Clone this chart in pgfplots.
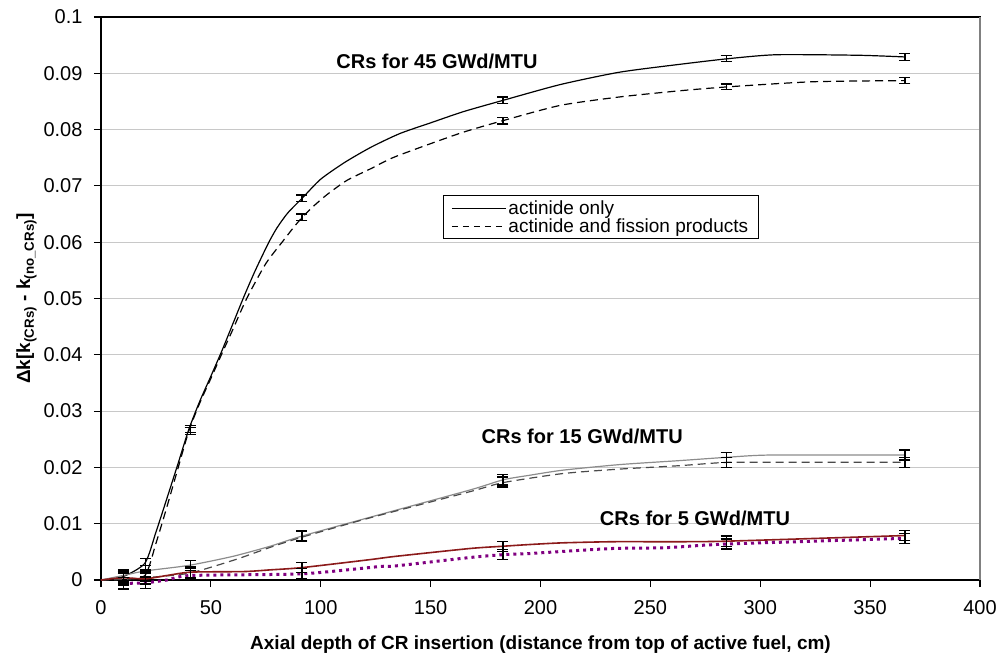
\documentclass[border=0pt]{standalone}
\usepackage{fontspec}
\setmainfont{Liberation Sans}
\usepackage{pgfplots}
\pgfplotsset{compat=1.18}
\definecolor{gridgray}{HTML}{C8C8C8}
\definecolor{lgray}{HTML}{8C8C8C}
\definecolor{dgray}{HTML}{4A4A4A}
\definecolor{dred}{HTML}{8B1A1A}
\definecolor{dpurple}{HTML}{800080}
\begin{document}
\begin{tikzpicture}
\begin{axis}[
 scale only axis, width=879pt, height=563pt,
 xmin=0, xmax=400, ymin=0, ymax=0.1,
 xtick={0,50,100,150,200,250,300,350,400},
 ytick={0,0.01,0.02,0.03,0.04,0.05,0.06,0.07,0.08,0.09,0.1},
 scaled y ticks=false,
 yticklabel style={/pgf/number format/fixed,/pgf/number format/precision=2, xshift=-8pt},
 xticklabel style={yshift=-10pt},
 /pgf/number format/assume math mode=true,
 tick label style={font=\fontsize{20}{24}\selectfont},
 tick align=outside, major tick length=7pt, xtick pos=bottom, ytick pos=left,
 tick style={black, line width=1.2pt},
 ymajorgrids, grid style={gridgray, line width=1.2pt},
 axis line style={black, line width=1.5pt},
 xlabel={Axial depth of CR insertion (distance from top of active fuel, cm)},
 ylabel={Δk[k\textsubscript{(CRs)} - k\textsubscript{(no\_CRs)}]},
 label style={font=\fontsize{19}{22}\selectfont\bfseries},
 xlabel style={yshift=-14pt},
 clip=false,
 legend cell align=left,
 legend image code/.code={\draw[#1] (0pt,0pt) -- (54pt,0pt);},
 legend style={at={(0.389,0.684)}, anchor=north west, draw=black, line width=1pt,
   font=\fontsize{19}{19}\selectfont, inner xsep=8pt, inner ysep=3pt, row sep=-1pt,
   nodes={inner xsep=2pt}},
 every axis plot/.append style={line join=round},
]
\addlegendimage{black, line width=1pt}
\addlegendentry{actinide only}
\addlegendimage{black, line width=1pt, dash pattern=on 6pt off 5pt}
\addlegendentry{actinide and fission products}

% 45 GWd/MTU actinide only
\addplot[forget plot, black, line width=1.2pt, smooth, tension=0.4] coordinates {
(0,0) (10,0.0006) (20,0.003) (25,0.0085) (30,0.0145) (35,0.0206) (40,0.0268) (45,0.0318) (50,0.0362) (55,0.0407) (60,0.0455) (65,0.0503) (70,0.0548) (76,0.0597) (80,0.0625) (85,0.0652) (92,0.068) (100,0.0712) (111,0.0742) (123,0.0769) (136,0.0793) (150,0.0812) (165,0.0832) (183,0.0852) (209,0.088) (236,0.0902) (263.5,0.0916) (285.5,0.0926) (307.5,0.0933) (345,0.0932) (366,0.0929)};
% 45 GWd/MTU actinide + FP
\addplot[forget plot, black, line width=1.2pt, dash pattern=on 8pt off 5pt, smooth, tension=0.4] coordinates {
(0,0) (10,0.0002) (20,0.0008) (25,0.0065) (30,0.013) (35,0.0198) (40,0.0265) (45,0.0315) (50,0.0358) (55,0.0402) (60,0.0445) (66.3,0.05) (75,0.0562) (83,0.0603) (88,0.0628) (92,0.0646) (97,0.0665) (103,0.0685) (112,0.071) (123,0.0731) (134,0.0752) (163,0.0793) (183,0.0816) (209,0.0843) (236,0.0858) (263.5,0.0869) (285.5,0.0876) (324,0.0885) (366,0.0887)};
% 15 GWd/MTU actinide only
\addplot[forget plot, lgray, line width=1.2pt, smooth, tension=0.4] coordinates {
(0,0) (10,0.0008) (20,0.0016) (40,0.0026) (60,0.0042) (77,0.006) (91.4,0.0078) (122,0.0111) (168,0.016) (183,0.0178) (195,0.0186) (210,0.0195) (236,0.0205) (263,0.0212) (285,0.0218) (305,0.0222) (366,0.0222)};
% 15 GWd/MTU actinide + FP
\addplot[forget plot, dgray, line width=1.2pt, dash pattern=on 8pt off 5pt, smooth, tension=0.4] coordinates {
(0,0) (10,0.0001) (20,0.0004) (40,0.0012) (61,0.0036) (77,0.0058) (91.4,0.0076) (122,0.011) (168,0.0157) (183,0.0173) (210,0.0189) (236,0.0197) (263,0.0203) (285,0.0209) (310,0.0209) (366,0.0209)};
% 5 GWd/MTU actinide only
\addplot[forget plot, dred, line width=1.6pt, smooth, tension=0.4] coordinates {
(0,0) (10,0.0004) (20,0.0002) (30,0.0008) (41,0.0014) (65,0.0015) (77,0.0018) (91.4,0.0022) (122,0.0036) (134,0.0042) (168,0.0056) (183,0.006) (195,0.0063) (210,0.0066) (233,0.0068) (260,0.0068) (285,0.0069) (366,0.0079)};
% 5 GWd/MTU actinide + FP
\addplot[forget plot, dpurple, line width=3pt, dash pattern=on 3pt off 4pt, smooth, tension=0.4] coordinates {
(10,-0.0006) (20,-0.0005) (30,0) (41,0.0008) (91.4,0.0011) (127,0.0024) (134,0.0025) (168,0.004) (183,0.0045) (195,0.0047) (203,0.0049) (233,0.0056) (254,0.0057) (264,0.0059) (285.5,0.0064) (366,0.0074)};

% error bars
\pgfplotsset{ebar/.style={forget plot, draw=none, mark=none,
  error bars/.cd, y dir=both, y explicit,
  error bar style={draw=black, line width=1.3pt},
  error mark options={draw=black, rotate=90, line width=1.3pt, mark size=5.5pt}}}
\addplot[ebar] coordinates {
(10.2,0.0005) +- (0,0.001) (20.3,0.0028) +- (0,0.001) (40.6,0.0268) +- (0,0.0006) (91.4,0.0678) +- (0,0.0006)
(182.9,0.0852) +- (0,0.0006) (284.5,0.0926) +- (0,0.0005) (365.8,0.0929) +- (0,0.0006)};
\addplot[ebar] coordinates {
(10.2,0.0002) +- (0,0.001) (20.3,0.0008) +- (0,0.001) (40.6,0.0265) +- (0,0.0006) (91.4,0.0644) +- (0,0.0006)
(182.9,0.0816) +- (0,0.0006) (284.5,0.0876) +- (0,0.0005) (365.8,0.0887) +- (0,0.0005)};
\addplot[ebar] coordinates {
(10.2,0.0008) +- (0,0.001) (20.3,0.0016) +- (0,0.001) (40.6,0.0026) +- (0,0.0009) (91.4,0.0079) +- (0,0.0009)
(182.9,0.0178) +- (0,0.0009) (284.5,0.0218) +- (0,0.0009) (365.8,0.0222) +- (0,0.0009)};
\addplot[ebar] coordinates {
(10.2,0.0001) +- (0,0.001) (20.3,0.0004) +- (0,0.001) (40.6,0.0012) +- (0,0.0009) (91.4,0.0077) +- (0,0.0009)
(182.9,0.0174) +- (0,0.0009) (284.5,0.0209) +- (0,0.0009) (365.8,0.0209) +- (0,0.0009)};
\addplot[ebar] coordinates {
(10.2,0.0004) +- (0,0.001) (20.3,0.0002) +- (0,0.001) (40.6,0.0014) +- (0,0.0009) (91.4,0.0022) +- (0,0.0009)
(182.9,0.006) +- (0,0.0009) (284.5,0.0069) +- (0,0.0009) (365.8,0.0079) +- (0,0.0009)};
\addplot[ebar] coordinates {
(10.2,-0.0006) +- (0,0.001) (20.3,-0.0005) +- (0,0.001) (40.6,0.0008) +- (0,0.0009) (91.4,0.0011) +- (0,0.0009)
(182.9,0.0045) +- (0,0.0009) (284.5,0.0064) +- (0,0.0009) (365.8,0.0074) +- (0,0.0009)};

\node[font=\fontsize{20}{24}\selectfont\bfseries] at (axis cs:152.9,0.0921) {CRs for 45 GWd/MTU};
\node[font=\fontsize{20}{24}\selectfont\bfseries] at (axis cs:219,0.0255) {CRs for 15 GWd/MTU};
\node[font=\fontsize{20}{24}\selectfont\bfseries] at (axis cs:270.3,0.011) {CRs for 5 GWd/MTU};
\draw[gray, line width=1.5pt] (rel axis cs:1,0) -- (rel axis cs:1,1);
\end{axis}
\pgfresetboundingbox
\useasboundingbox ([shift={(-101pt,-79pt)}]current axis.south west) rectangle ([shift={(22pt,17pt)}]current axis.north east);
\end{tikzpicture}
\end{document}
